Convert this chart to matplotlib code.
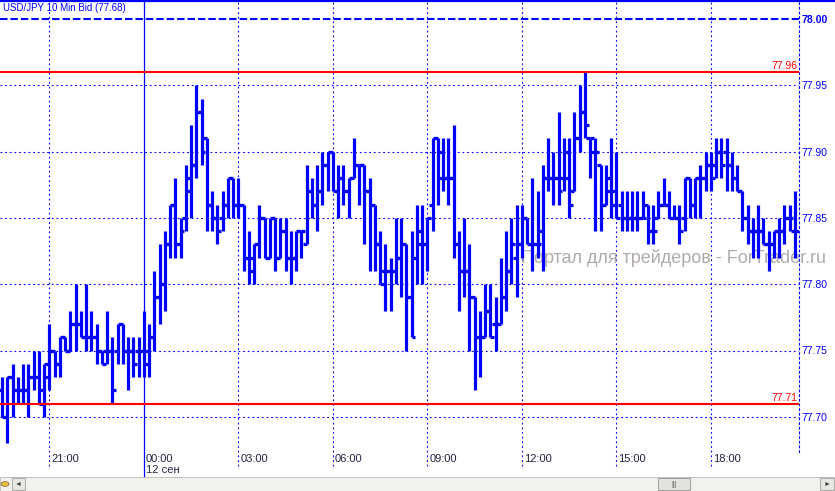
import matplotlib
matplotlib.use("Agg")
import matplotlib.pyplot as plt
import matplotlib.transforms as mtransforms
from matplotlib.patches import Rectangle
from matplotlib.lines import Line2D

plt.rcParams['font.family'] = ['Liberation Sans', 'DejaVu Sans']

# ---------------- data: USD/JPY 10 min bars ----------------
highs = [77.73, 77.73, 77.74, 77.73, 77.74, 77.74, 77.75, 77.75, 77.74, 77.77,
         77.75, 77.76, 77.76, 77.78, 77.80, 77.78, 77.80, 77.78, 77.77,
         77.75, 77.78, 77.76, 77.77, 77.77, 77.76, 77.76, 77.76, 77.78, 77.77,
         77.81, 77.83, 77.84, 77.86, 77.88, 77.85, 77.89, 77.92, 77.95, 77.94,
         77.91, 77.87, 77.86, 77.87, 77.88, 77.88, 77.88, 77.86, 77.84, 77.83,
         77.86, 77.85, 77.85, 77.85, 77.85, 77.85, 77.84, 77.84, 77.84,
         77.89, 77.88, 77.89, 77.90, 77.90, 77.90, 77.89, 77.89, 77.88, 77.91,
         77.89, 77.89, 77.88, 77.86, 77.84, 77.83, 77.82, 77.85, 77.85,
         77.83, 77.84, 77.86, 77.86, 77.85, 77.91, 77.91, 77.91, 77.91, 77.92,
         77.84, 77.85, 77.83, 77.79, 77.78, 77.80, 77.80, 77.79, 77.82,
         77.84, 77.85, 77.86, 77.86, 77.85, 77.88, 77.87, 77.89, 77.91, 77.90,
         77.93, 77.91, 77.91, 77.93, 77.95, 77.96, 77.91, 77.91, 77.89,
         77.89, 77.91, 77.90, 77.87, 77.87, 77.87, 77.87, 77.87, 77.86, 77.86,
         77.87, 77.88, 77.87, 77.86, 77.86, 77.88, 77.88, 77.88, 77.89,
         77.90, 77.90, 77.91, 77.91, 77.91, 77.90, 77.89, 77.87, 77.86, 77.85,
         77.86, 77.85, 77.84, 77.84, 77.85, 77.86, 77.86, 77.87]

lows = [77.70, 77.68, 77.70, 77.71, 77.71, 77.70, 77.72, 77.71, 77.70, 77.72,
        77.73, 77.73, 77.75, 77.75, 77.75, 77.76, 77.75, 77.75, 77.74,
        77.74, 77.74, 77.71, 77.74, 77.74, 77.72, 77.73, 77.73, 77.73, 77.73,
        77.75, 77.77, 77.78, 77.82, 77.82, 77.82, 77.84, 77.85, 77.88, 77.89,
        77.84, 77.84, 77.83, 77.84, 77.85, 77.85, 77.85, 77.81, 77.80, 77.80,
        77.82, 77.82, 77.82, 77.81, 77.82, 77.81, 77.80, 77.81, 77.82,
        77.83, 77.85, 77.84, 77.86, 77.87, 77.87, 77.85, 77.86, 77.85, 77.88,
        77.86, 77.83, 77.81, 77.81, 77.80, 77.78, 77.78, 77.80, 77.79,
        77.75, 77.76, 77.80, 77.80, 77.81, 77.84, 77.86, 77.87, 77.86, 77.82,
        77.78, 77.79, 77.75, 77.72, 77.73, 77.76, 77.76, 77.75, 77.77,
        77.78, 77.80, 77.79, 77.82, 77.83, 77.81, 77.82, 77.81, 77.87, 77.86,
        77.86, 77.87, 77.85, 77.87, 77.90, 77.91, 77.88, 77.84, 77.84,
        77.86, 77.85, 77.85, 77.84, 77.84, 77.84, 77.84, 77.85, 77.83, 77.83,
        77.85, 77.86, 77.85, 77.85, 77.83, 77.84, 77.85, 77.85, 77.85,
        77.87, 77.87, 77.88, 77.88, 77.87, 77.87, 77.87, 77.84, 77.83, 77.82,
        77.82, 77.83, 77.81, 77.82, 77.82, 77.83, 77.84, 77.82]

opens = [77.72, 77.70, 77.73, 77.72, 77.72, 77.72, 77.73, 77.73, 77.72, 77.73,
         77.75, 77.74, 77.76, 77.75, 77.77, 77.77, 77.76, 77.76, 77.76,
         77.75, 77.75, 77.75, 77.75, 77.77, 77.75, 77.75, 77.75, 77.75, 77.75,
         77.76, 77.79, 77.80, 77.83, 77.86, 77.83, 77.85, 77.87, 77.89, 77.93,
         77.91, 77.86, 77.85, 77.85, 77.86, 77.88, 77.86, 77.86, 77.82, 77.82,
         77.83, 77.85, 77.82, 77.85, 77.82, 77.84, 77.82, 77.82, 77.84,
         77.83, 77.87, 77.86, 77.87, 77.89, 77.90, 77.87, 77.88, 77.87, 77.88,
         77.89, 77.89, 77.87, 77.86, 77.83, 77.81, 77.81, 77.81, 77.82,
         77.83, 77.79, 77.82, 77.83, 77.83, 77.86, 77.91, 77.90, 77.88, 77.88,
         77.83, 77.81, 77.81, 77.79, 77.76, 77.76, 77.78, 77.77, 77.77,
         77.79, 77.81, 77.82, 77.83, 77.85, 77.83, 77.83, 77.84, 77.88, 77.88,
         77.88, 77.88, 77.88, 77.87, 77.91, 77.93, 77.91, 77.90, 77.89,
         77.86, 77.87, 77.86, 77.86, 77.85, 77.85, 77.85, 77.85, 77.86, 77.84,
         77.85, 77.86, 77.86, 77.85, 77.85, 77.85, 77.88, 77.86, 77.88,
         77.88, 77.89, 77.89, 77.90, 77.90, 77.89, 77.88, 77.87, 77.85, 77.84,
         77.84, 77.84, 77.83, 77.83, 77.84, 77.84, 77.85, 77.84]

closes = [77.70, 77.73, 77.72, 77.72, 77.72, 77.73, 77.73, 77.71, 77.74, 77.75,
          77.74, 77.76, 77.75, 77.77, 77.77, 77.76, 77.76, 77.76, 77.75,
          77.74, 77.75, 77.72, 77.77, 77.75, 77.75, 77.74, 77.75, 77.74, 77.76,
          77.79, 77.80, 77.83, 77.86, 77.83, 77.84, 77.88, 77.89, 77.93, 77.90,
          77.86, 77.85, 77.84, 77.86, 77.88, 77.86, 77.86, 77.82, 77.81, 77.83,
          77.85, 77.82, 77.85, 77.82, 77.84, 77.82, 77.82, 77.84, 77.84,
          77.87, 77.86, 77.87, 77.89, 77.90, 77.87, 77.88, 77.87, 77.88, 77.89,
          77.89, 77.87, 77.86, 77.83, 77.80, 77.81, 77.81, 77.82, 77.83,
          77.79, 77.76, 77.84, 77.83, 77.85, 77.91, 77.88, 77.88, 77.88, 77.83,
          77.81, 77.81, 77.79, 77.76, 77.76, 77.78, 77.76, 77.77, 77.79,
          77.81, 77.83, 77.83, 77.85, 77.83, 77.83, 77.83, 77.88, 77.88, 77.88,
          77.87, 77.90, 77.86, 77.91, 77.93, 77.92, 77.91, 77.90, 77.86,
          77.88, 77.87, 77.85, 77.85, 77.85, 77.85, 77.85, 77.85, 77.84, 77.84,
          77.86, 77.86, 77.85, 77.85, 77.84, 77.88, 77.86, 77.88, 77.88,
          77.89, 77.88, 77.90, 77.89, 77.89, 77.88, 77.87, 77.85, 77.84, 77.84,
          77.84, 77.83, 77.83, 77.84, 77.84, 77.85, 77.85, 77.84]

# first bar is 19:30, one bar every 10 minutes
time_ticks = [9, 27, 45, 63, 81, 99, 117, 135]
time_labels = ['21:00', '00:00', '03:00', '06:00', '09:00', '12:00', '15:00', '18:00']
day_bar = 27
day_label = '12 сен'

price_ticks = [77.70, 77.75, 77.80, 77.85, 77.90, 77.95, 78.00]
high_level = 77.96
low_level = 77.71
title = 'USD/JPY 10 Min Bid (77.68)'
watermark = 'Портал для трейдеров - ForTrader.ru'

# ---------------- figure ----------------
W, H = 835, 491
fig = plt.figure(figsize=(W / 100, H / 100), dpi=100)
fig.patch.set_facecolor('white')

def fx(px):
    return px / W

def fy(py):
    return 1 - py / H

ax_top, ax_bot, ax_right = 2, 452, 799
ax = fig.add_axes([0, fy(ax_bot), fx(ax_right), (ax_bot - ax_top) / H])
ax.set_facecolor('white')

step = 5.25  # pixels per bar
ax.set_xlim(-2 / step, (ax_right - 2) / step)
ax.set_ylim(78.00 - (ax_bot - 19) / 1326, 78.00 + (19 - ax_top) / 1326)

blue = '#0000ff'
dot = (0, (1.6, 2.6))

# grid
for p in price_ticks[:-1]:
    ax.axhline(p, color=blue, lw=0.8, ls=dot, zorder=1)
ax.axhline(price_ticks[-1], color=blue, lw=1.5, ls=(0, (3.6, 1.4)), zorder=1)
for t in time_ticks:
    if t == day_bar:
        ax.axvline(t, ymin=-0.058, ymax=1, color=blue, lw=0.9, zorder=1, clip_on=False)
    else:
        ax.axvline(t, ymin=-0.03, ymax=1, color=blue, lw=0.8, ls=dot, zorder=1, clip_on=False)

for s in ['top', 'left', 'bottom']:
    ax.spines[s].set_visible(False)
ax.spines['right'].set_color(blue)
ax.spines['right'].set_linestyle(dot)
ax.spines['right'].set_linewidth(0.8)

# watermark under the bars
ax.text(fx(521), fy(258), watermark, transform=fig.transFigure, fontsize=13,
        color='#a39c9c', alpha=0.85, ha='left', va='center', zorder=1.5, clip_on=False)

# OHLC bars
xs = list(range(len(highs)))
tick = 0.72
ax.vlines(xs, lows, highs, color=blue, lw=2.3, capstyle='butt', zorder=3)
ax.hlines(opens, [x - tick for x in xs], xs, color=blue, lw=2.3, capstyle='butt', zorder=3)
ax.hlines(closes, xs, [x + tick for x in xs], color=blue, lw=2.3, capstyle='butt', zorder=3)

# red levels
red = '#ff0000'
xmax = ax.get_xlim()[1]
lbl_off = mtransforms.ScaledTranslation(-2 / 100, 1 / 100, fig.dpi_scale_trans)
for lvl in [high_level, low_level]:
    ax.axhline(lvl, color=red, lw=1.5, zorder=4)
    ax.text(xmax, lvl, f'{lvl:.2f}', color=red, fontsize=7.5, ha='right', va='bottom',
            transform=ax.transData + lbl_off, zorder=5)

# right price axis
ax.yaxis.tick_right()
ax.set_yticks(price_ticks)
ax.set_yticklabels([f'{p:.2f}' for p in price_ticks])
ax.tick_params(axis='y', length=0, pad=2, labelsize=7.5, labelcolor=blue)
ax.get_yticklabels()[-1].set_fontweight('bold')
ax.set_xticks([])

# time labels
tt = mtransforms.blended_transform_factory(ax.transData, ax.transAxes)
txt_off = mtransforms.ScaledTranslation(2 / 100, 0, fig.dpi_scale_trans)
for t, lab in zip(time_ticks, time_labels):
    ax.text(t, -(459 - ax_bot) / (ax_bot - ax_top), lab, transform=tt + txt_off,
            fontsize=8, color='#222244', ha='left', va='center', clip_on=False)
ax.text(day_bar, -(470 - ax_bot) / (ax_bot - ax_top), day_label, transform=tt + txt_off,
        fontsize=8, color='#222244', ha='left', va='center', clip_on=False)

# title
fig.text(fx(3), fy(8), title, fontsize=7, color=blue, ha='left', va='center')
# top border
fig.add_artist(Line2D([0, 1], [fy(1), fy(1)], color=blue, lw=1.6, transform=fig.transFigure))

# scrollbar at the bottom
def frect(x0, y0, x1, y1, **kw):
    fig.add_artist(Rectangle((fx(x0), fy(y1)), fx(x1) - fx(x0), fy(y0) - fy(y1),
                             transform=fig.transFigure, **kw))

frect(0, 477, W, H, facecolor='#f2f1ee', edgecolor='#b8b8b8', lw=0.6)
frect(12, 478, 25, 490, facecolor='#e8e6e0', edgecolor='#a0a0a0', lw=0.6)
frect(820, 478, 834, 490, facecolor='#e8e6e0', edgecolor='#a0a0a0', lw=0.6)
frect(658, 478, 690, 490, facecolor='#e4e2dc', edgecolor='#909090', lw=0.6)
fig.text(fx(18.5), fy(484), '◄', fontsize=5, color='#404040', ha='center', va='center')
fig.text(fx(827), fy(484), '►', fontsize=5, color='#404040', ha='center', va='center')
fig.text(fx(674), fy(484), '|||', fontsize=5, color='#606060', ha='center', va='center')
fig.add_artist(plt.Circle((fx(5), fy(484)), 4 / W, transform=fig.transFigure,
                          facecolor='#e8c040', edgecolor='#806020', lw=0.5))

fig.savefig('out.png', dpi=100)
